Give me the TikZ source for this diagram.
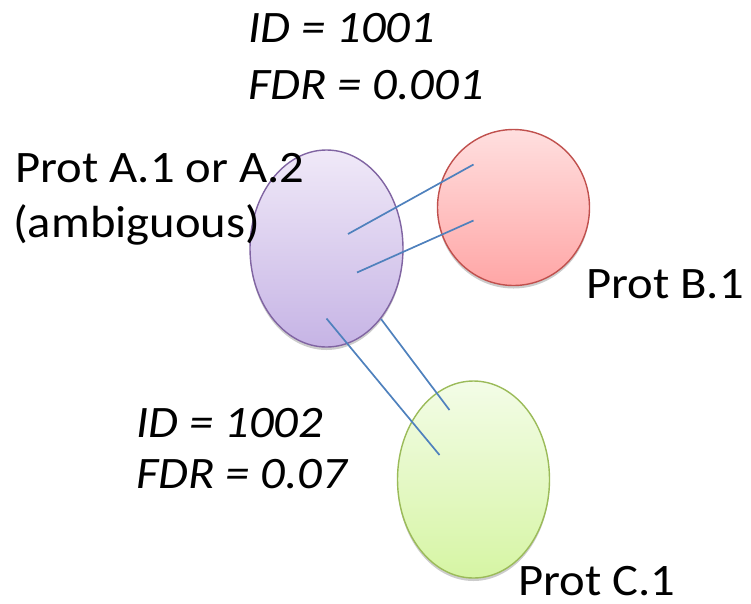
\documentclass[tikz,border=0pt]{standalone}
\usepackage{fontspec}
\setmainfont{Carlito}[FakeStretch=1.08]
\usetikzlibrary{shapes.geometric,shadows}

\definecolor{purpleline}{RGB}{128,100,162}
\definecolor{purpletop}{RGB}{240,233,248}
\definecolor{purplebot}{RGB}{198,180,229}
\definecolor{redline}{RGB}{192,80,77}
\definecolor{redtop}{RGB}{255,223,223}
\definecolor{redbot}{RGB}{255,166,166}
\definecolor{greenline}{RGB}{155,187,89}
\definecolor{greentop}{RGB}{243,252,231}
\definecolor{greenbot}{RGB}{214,245,164}
\definecolor{linkblue}{RGB}{79,129,189}

\tikzset{
  prot/.style={ellipse, inner sep=0pt, line width=1.4pt,
    drop shadow={shadow xshift=0pt, shadow yshift=-3pt, opacity=0.2, fill=black}},
  link/.style={draw=linkblue, line width=1.7pt},
  label/.style={anchor=base west, inner sep=0pt, font=\fontsize{45}{50}\selectfont},
  stat/.style={label, font=\fontsize{45}{50}\selectfont\itshape}
}

\begin{document}
\begin{tikzpicture}[x=1pt, y=-1pt]
  \useasboundingbox (0,0) rectangle (751,603);

  % proteins
  \node[prot, draw=purpleline, top color=purpletop, bottom color=purplebot,
        minimum width=153pt, minimum height=197pt] (A) at (326.5,248.5) {};
  \node[prot, draw=redline, top color=redtop, bottom color=redbot,
        minimum width=152pt, minimum height=156pt] (B) at (513.5,207.5) {};
  \node[prot, draw=greenline, top color=greentop, bottom color=greenbot,
        minimum width=152pt, minimum height=197pt] (C) at (473.5,479.5) {};

  % end points of the peptide links
  \coordinate (a1) at (348,234);
  \coordinate (a2) at (357,272.5);
  \coordinate (a3) at (326.5,318.5);
  \coordinate (a4) at (381,319);
  \coordinate (b1) at (473.5,164.5);
  \coordinate (b2) at (473.5,220.5);
  \coordinate (c1) at (439.5,455);
  \coordinate (c2) at (449.5,410);

  \draw[link] (a1) -- (b1);
  \draw[link] (a2) -- (b2);
  \draw[link] (a3) -- (c1);
  \draw[link] (a4) -- (c2);

  % labels
  \node[stat] (id1) at (248,42) {ID = 1001};
  \node[stat] (fdr1) at (248,99) {FDR = 0.001};
  \node[label] (nameA) at (15,182) {Prot A.1 or A.2};
  \node[label] (ambig) at (13,237) {(ambiguous)};
  \node[label] (nameB) at (586,298) {Prot B.1};
  \node[stat] (id2) at (136,437) {ID = 1002};
  \node[stat] (fdr2) at (136,488) {FDR = 0.07};
  \node[label] (nameC) at (518,595) {Prot C.1};
\end{tikzpicture}
\end{document}
